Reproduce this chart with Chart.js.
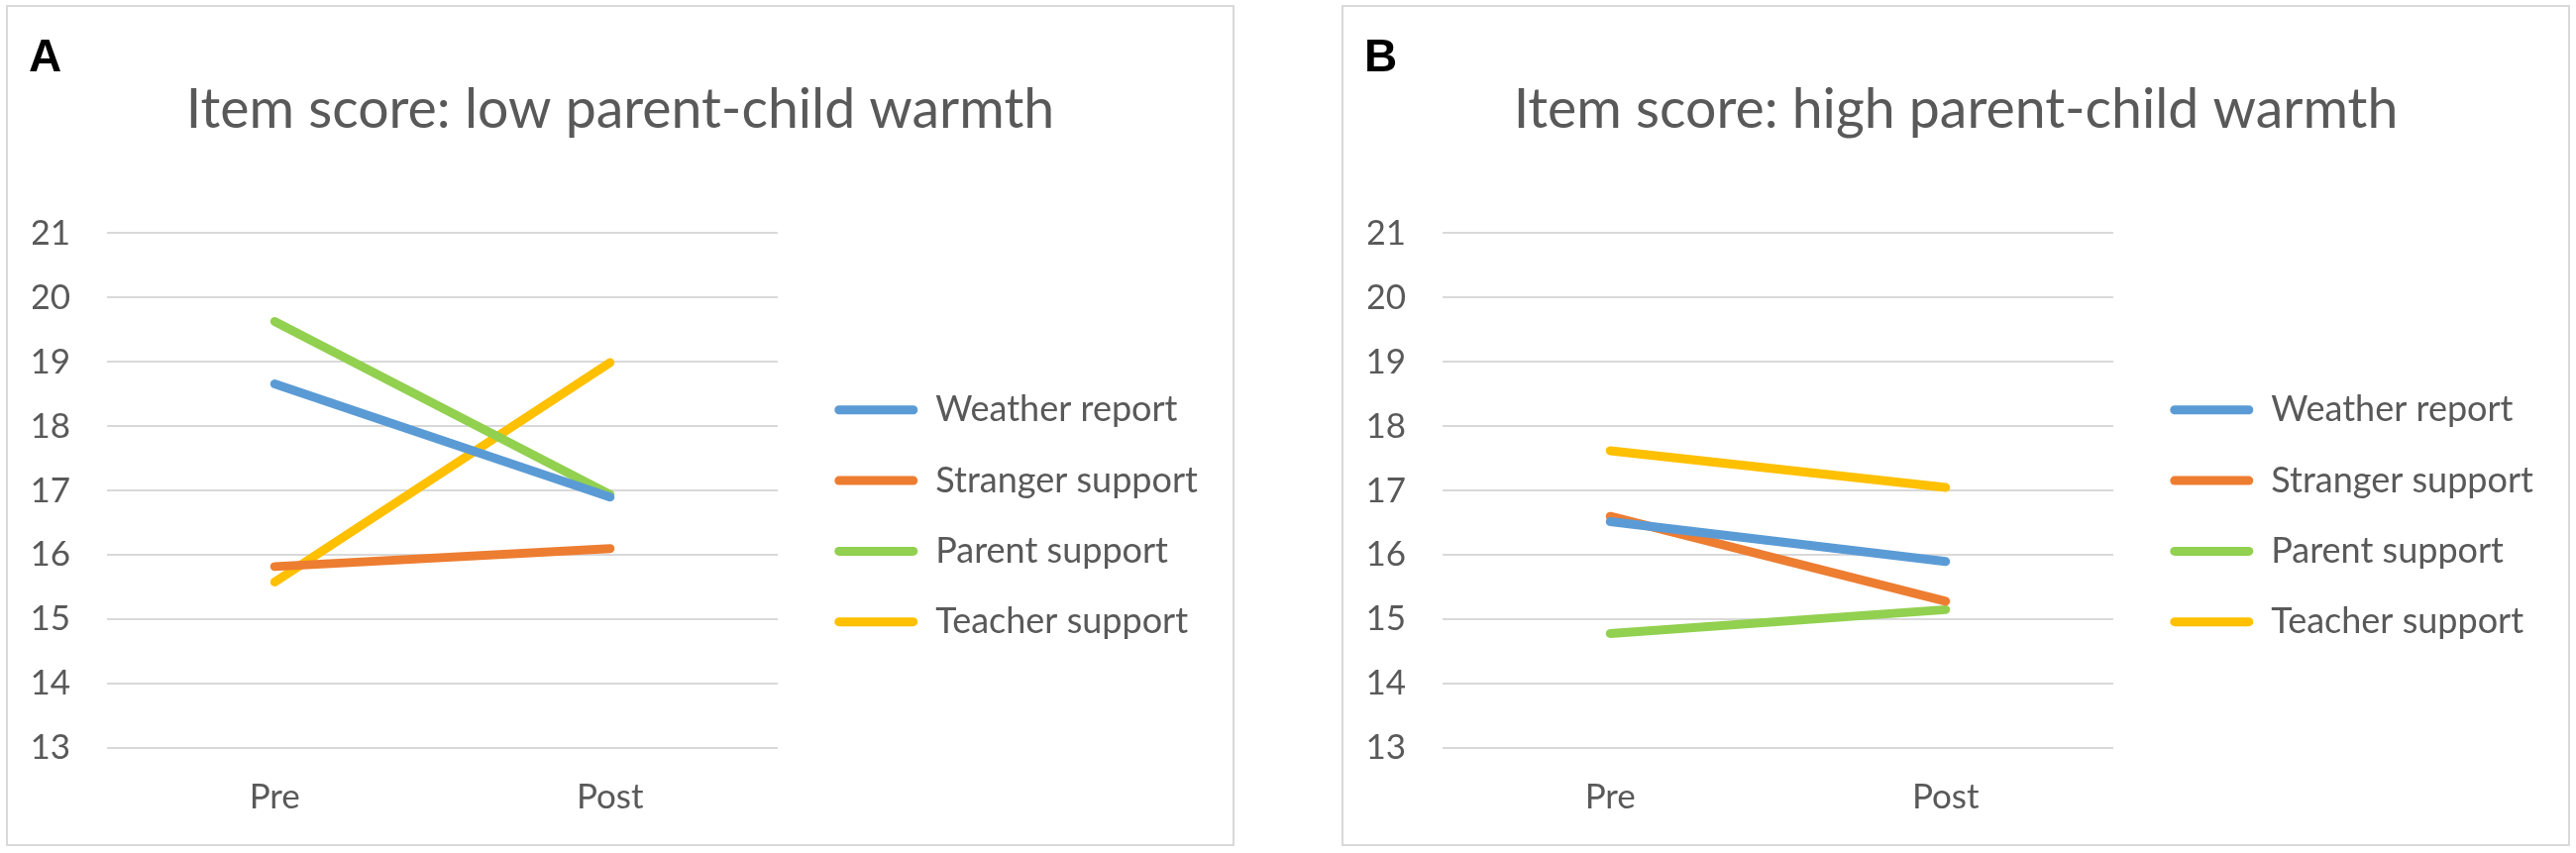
<!DOCTYPE html>
<html><head><meta charset="utf-8">
<script src="https://cdn.jsdelivr.net/npm/chart.js@4.4.0/dist/chart.umd.min.js"></script>
<style>
html,body{margin:0;padding:0;background:#fff;width:2600px;height:861px;overflow:hidden;}
.panel{position:absolute;top:5px;width:1236px;height:845px;border:2px solid #d9d9d9;background:#fff;}
#pA{left:6px}
#pB{left:1354px}
.tag{position:absolute;left:21px;top:26px;font:bold 46px "Liberation Sans",Arial,sans-serif;line-height:46px;color:#000}
canvas{position:absolute;left:0;top:0}
</style></head><body>
<div class="panel" id="pA"><canvas id="cA" width="1236" height="845"></canvas><div class="tag">A</div></div>
<div class="panel" id="pB"><canvas id="cB" width="1236" height="845"></canvas><div class="tag">B</div></div>
<script>
// ---- data ----
const categories = ['Pre', 'Post'];
const seriesNames = ['Weather report', 'Stranger support', 'Parent support', 'Teacher support'];
const seriesColors = ['#5B9BD5', '#ED7D31', '#92D050', '#FFC000'];
const yMin = 13, yMax = 21, yStep = 1;

const titleLow = 'Item score: low parent-child warmth';
const lowWeather  = [18.66, 16.90];
const lowStranger = [15.82, 16.10];
const lowParent   = [19.63, 16.94];
const lowTeacher  = [15.58, 18.99];

const titleHigh = 'Item score: high parent-child warmth';
const highWeather  = [16.52, 15.90];
const highStranger = [16.60, 15.28];
const highParent   = [14.78, 15.15];
const highTeacher  = [17.62, 17.05];

// ---- style ----
const FONT = 'Lato';
const TXT = '#595959';
const W = 1236;
const legendFont = 36, legendPad = 35.3, legendBox = 84;
const chartLeft = 100, chartRight = 777, spacer = 22;

const mctx = document.createElement('canvas').getContext('2d');
mctx.font = legendFont + 'px ' + FONT;
const maxTextW = Math.max(...seriesNames.map(s => mctx.measureText(s).width));
// Chart.js vertical legend width = padding + box + font/2 + text + 10
const legendW = legendPad + legendBox + legendFont / 2 + maxTextW + 10;
const padSide = Math.max(0, Math.min(60, W - chartRight - spacer - legendW));

function makeChart(id, title, arrays) {
  const datasets = arrays.map((d, i) => ({
    label: seriesNames[i],
    data: d,
    borderColor: seriesColors[i],
    backgroundColor: seriesColors[i],
    borderWidth: 9,
    borderCapStyle: 'round',
    borderJoinStyle: 'round',
    pointRadius: 0,
    pointHoverRadius: 0,
    tension: 0,
    fill: false
  }));
  return new Chart(document.getElementById(id), {
    type: 'line',
    data: { labels: categories, datasets },
    options: {
      responsive: false,
      devicePixelRatio: 1,
      animation: false,
      events: [],
      layout: { padding: { left: padSide, right: padSide, top: 0, bottom: 30 } },
      scales: {
        x: {
          type: 'category',
          offset: true,
          grid: { display: false, drawTicks: false },
          border: { display: false },
          ticks: { color: TXT, font: { family: FONT, size: 35 }, padding: 29 },
          afterFit: (s) => { s.height = 67; }
        },
        y: {
          min: yMin, max: yMax,
          grid: { color: '#d9d9d9', lineWidth: 2, drawTicks: false },
          border: { display: false },
          ticks: { stepSize: yStep, color: TXT, font: { family: FONT, size: 35 }, padding: 37 },
          afterFit: (s) => { s.width = chartLeft - padSide; }
        },
        y2: {
          position: 'right',
          display: true,
          grid: { display: false, drawTicks: false },
          border: { display: false },
          ticks: { display: false },
          afterFit: (s) => { s.width = spacer; }
        }
      },
      plugins: {
        tooltip: { enabled: false },
        title: {
          display: true,
          text: title,
          color: TXT,
          font: { family: FONT, size: 55.4, weight: 'normal' },
          padding: { top: 71, bottom: 91 }
        },
        legend: {
          position: 'right',
          align: 'center',
          fullSize: false,
          maxWidth: 2000,
          title: { display: true, text: ' ', font: { size: 10 }, padding: 19.5 },
          labels: {
            color: TXT,
            font: { family: FONT, size: legendFont },
            boxWidth: legendBox,
            boxHeight: 9,
            padding: legendPad,
            generateLabels: (chart) => Chart.defaults.plugins.legend.labels.generateLabels(chart)
              .map(l => Object.assign(l, { lineWidth: 0, fillStyle: l.strokeStyle, borderRadius: 4.5 }))
          }
        }
      }
    }
  });
}

makeChart('cA', titleLow, [lowWeather, lowStranger, lowParent, lowTeacher]);
makeChart('cB', titleHigh, [highWeather, highStranger, highParent, highTeacher]);
</script>
</body></html>
